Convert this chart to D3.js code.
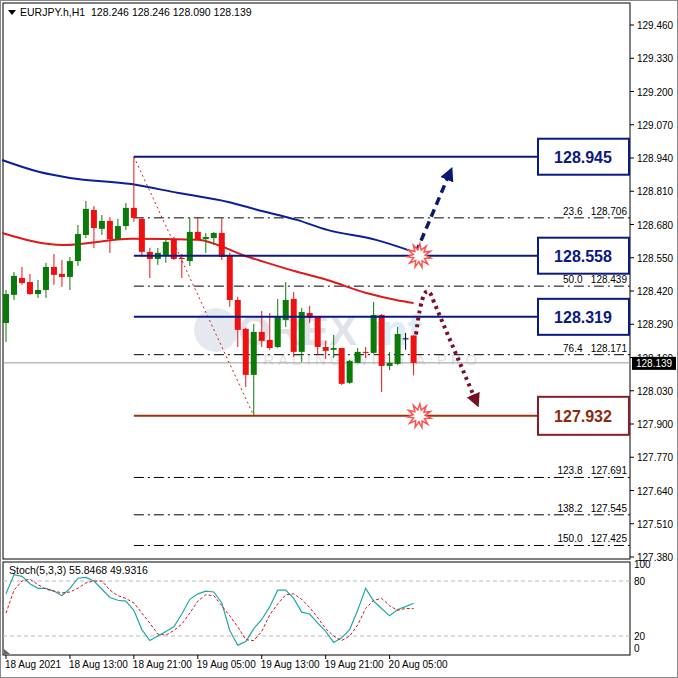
<!DOCTYPE html>
<html><head><meta charset="utf-8">
<script src="https://cdnjs.cloudflare.com/ajax/libs/d3/7.8.5/d3.min.js"></script>
<style>body{margin:0;background:#fff}svg{display:block;font-family:"Liberation Sans",Arial,sans-serif}</style>
</head><body><svg id="c" width="678" height="678"></svg>
<script>
// OHLC per hourly bar
const opens  = [128.295,128.405,128.471,128.455,128.408,128.424,128.514,128.487,128.475,128.537,128.639,128.737,128.663,128.694,128.623,128.674,128.745,128.702,128.573,128.545,128.561,128.620,128.549,128.537,128.651,128.623,128.627,128.647,128.557,128.385,128.272,128.092,128.260,128.229,128.201,128.307,128.389,128.182,128.334,128.319,128.201,128.190,128.197,128.061,128.139,128.182,128.178,128.326,128.127,128.135,128.233,128.246];
const highs  = [128.424,128.494,128.514,128.487,128.463,128.530,128.565,128.541,128.553,128.678,128.772,128.752,128.717,128.709,128.702,128.764,128.945,128.709,128.588,128.588,128.627,128.631,128.565,128.706,128.709,128.647,128.651,128.706,128.569,128.397,128.276,128.291,128.342,128.334,128.389,128.455,128.416,128.354,128.362,128.319,128.225,128.248,128.190,128.151,128.197,128.201,128.377,128.330,128.182,128.279,128.256,128.246];
const lows   = [128.221,128.385,128.444,128.405,128.393,128.393,128.444,128.436,128.424,128.518,128.627,128.588,128.639,128.569,128.623,128.659,128.690,128.553,128.471,128.522,128.530,128.541,128.471,128.518,128.620,128.569,128.600,128.541,128.358,128.201,128.045,127.932,128.201,128.190,128.197,128.279,128.162,128.143,128.295,128.170,128.154,128.158,128.053,128.057,128.139,128.158,128.174,128.025,128.111,128.131,128.190,128.090];
const closes = [128.408,128.479,128.451,128.408,128.424,128.514,128.483,128.475,128.537,128.643,128.741,128.666,128.694,128.623,128.674,128.745,128.706,128.573,128.545,128.569,128.612,128.545,128.547,128.651,128.620,128.631,128.647,128.553,128.385,128.268,128.092,128.260,128.225,128.197,128.319,128.385,128.182,128.338,128.315,128.201,128.186,128.197,128.057,128.147,128.182,128.178,128.326,128.127,128.139,128.252,128.233,128.139];
// moving averages (read at sample bars)
const blueMA = [[-0.5,128.932],[4.2,128.885],[8,128.862],[15.7,128.838],[21.6,128.803],[27.8,128.768],[31.5,128.737],[36.4,128.698],[40.2,128.659],[46.3,128.620],[51,128.573]];
const redMA  = [[-0.5,128.647],[7.2,128.600],[15.7,128.624],[24,128.620],[26.5,128.600],[29.6,128.561],[32.7,128.530],[36.4,128.495],[40.2,128.463],[45.1,128.412],[48.8,128.385],[51,128.373]];
// stochastic
const stochMain = [66,87,85,77,72,72,69,64,72,83,84,80,71,62,59,58,48,27,15,20,25,30,44,60,66,69,68,56,26,10,14,28,38,52,70,70,61,46,44,34,25,13,18,27,48,72,58,50,42,49,52,55.8];
const stochSig  = [45,70,80,82,76,71,69,67,68,72,78,80,80,70,64,61,56,45,34,22,21,26,33,45,58,65,64,53,42,30,16,15,25,43,55,65,66,60,51,40,28,20,15,20,32,50,59,61,53,48,50,49.9];
const priceTicks = [129.460,129.330,129.200,129.070,128.940,128.810,128.680,128.550,128.420,128.290,128.160,128.030,127.900,127.770,127.640,127.510,127.380];
const timeLabels = [[0,"18 Aug 2021"],[8,"18 Aug 13:00"],[16,"18 Aug 21:00"],[24,"19 Aug 05:00"],[32,"19 Aug 13:00"],[40,"19 Aug 21:00"],[48,"20 Aug 05:00"]];
const levels = [128.945,128.558,128.319];
const supportLevel = 127.932;
const fibLevels = [["23.6","128.706",128.706],["50.0","128.439",128.439],["76.4","128.171",128.171],["123.8","127.691",127.691],["138.2","127.545",127.545],["150.0","127.425",127.425]];
const lastPrice = 128.139;

const svg = d3.select("#c");
const L=3,R=630,T=3,B=559, ST=562, SB=655;
const x = d3.scaleLinear().domain([0,51]).range([6,413.6]);
const y = d3.scaleLinear().domain([127.38,129.46]).range([557,25]);
const ys = d3.scaleLinear().domain([20,80]).range([636,581]);

svg.append("rect").attr("x",0.5).attr("y",0.5).attr("width",677).attr("height",677).attr("fill","#fff").attr("stroke","#888");
svg.append("rect").attr("x",L).attr("y",T).attr("width",R-L).attr("height",B-T).attr("fill","none").attr("stroke","#000");
svg.append("rect").attr("x",L).attr("y",ST).attr("width",R-L).attr("height",SB-ST).attr("fill","none").attr("stroke","#000");

// watermark
const wm = svg.append("g").attr("opacity",0.18);
wm.append("circle").attr("cx",216).attr("cy",330).attr("r",22).attr("fill","#7a86a8");
wm.append("text").attr("x",238).attr("y",345).attr("font-size",42).attr("font-weight","bold").attr("fill","#5a6690").text("OREX");
wm.append("text").attr("x",370).attr("y",345).attr("font-size",42).attr("font-weight","bold").attr("fill","#4aa0d8").text("inf");
wm.append("text").attr("x",250).attr("y",365).attr("font-size",15).attr("letter-spacing",4).attr("fill","#667").text("TRADING WITH A PRO");

// axis ticks
const ax = svg.append("g");
priceTicks.forEach(p=>{
  ax.append("line").attr("x1",R).attr("x2",R+4).attr("y1",y(p)).attr("y2",y(p)).attr("stroke","#000");
  ax.append("text").attr("x",R+7).attr("y",y(p)+4).attr("font-size",10).attr("fill","#000").text(p.toFixed(3));
});

// fib lines
fibLevels.forEach(f=>{
  svg.append("line").attr("x1",x(16)).attr("x2",R).attr("y1",y(f[2])).attr("y2",y(f[2])).attr("stroke","#000").attr("stroke-dasharray","10,4,2,4");
  svg.append("text").attr("x",R-3).attr("y",y(f[2])-3).attr("text-anchor","end").attr("font-size",10).attr("fill","#000").text(f[0]+"   "+f[1]).style("white-space","pre");
});
// last price line
svg.append("line").attr("x1",L).attr("x2",R).attr("y1",y(lastPrice)).attr("y2",y(lastPrice)).attr("stroke","#999");
svg.append("rect").attr("x",R+2).attr("y",y(lastPrice)-6).attr("width",44).attr("height",13).attr("fill","#000");
svg.append("text").attr("x",R+6).attr("y",y(lastPrice)+4).attr("font-size",10).attr("fill","#fff").text(lastPrice.toFixed(3));

// diagonal fib line
svg.append("line").attr("x1",x(16)).attr("y1",y(128.945)).attr("x2",x(31)).attr("y2",y(127.932)).attr("stroke","#d02020").attr("stroke-dasharray","2,3");

// MAs
const ml = d3.line().x(d=>x(d[0])).y(d=>y(d[1])).curve(d3.curveMonotoneX);
svg.append("path").attr("d",ml(blueMA)).attr("fill","none").attr("stroke","#0a1ea0").attr("stroke-width",2);
svg.append("path").attr("d",ml(redMA)).attr("fill","none").attr("stroke","#e01818").attr("stroke-width",2);

// candles
const cg = svg.append("g");
opens.forEach((o,i)=>{
  const c=closes[i], up=c>=o, col = Math.abs(c-o)<0.002?"#000":(up?"#0a7a0a":"#ee1111");
  cg.append("line").attr("x1",x(i)).attr("x2",x(i)).attr("y1",y(highs[i])).attr("y2",y(lows[i])).attr("stroke",col);
  const t=y(Math.max(o,c)), h=Math.max(1,y(Math.min(o,c))-t);
  if(Math.abs(c-o)<0.002) cg.append("line").attr("x1",x(i)-3).attr("x2",x(i)+3).attr("y1",t).attr("y2",t).attr("stroke",col);
  else cg.append("rect").attr("x",x(i)-3).attr("y",t).attr("width",6).attr("height",h).attr("fill",col);
});

// levels + boxes
levels.forEach(p=>{
  svg.append("line").attr("x1",x(16)).attr("x2",R).attr("y1",y(p)).attr("y2",y(p)).attr("stroke","#0a1a80").attr("stroke-width",2);
  svg.append("rect").attr("x",538).attr("y",y(p)-18).attr("width",91).attr("height",36).attr("fill","#fff").attr("stroke","#0a1a80").attr("stroke-width",2);
  svg.append("text").attr("x",583).attr("y",y(p)+6).attr("text-anchor","middle").attr("font-size",16).attr("font-weight","bold").attr("fill","#0a1a80").text(p.toFixed(3));
});
svg.append("line").attr("x1",x(16)).attr("x2",R).attr("y1",y(supportLevel)).attr("y2",y(supportLevel)).attr("stroke","#a0300a").attr("stroke-width",2);
svg.append("rect").attr("x",538).attr("y",y(supportLevel)-19).attr("width",91).attr("height",38).attr("fill","#fff").attr("stroke","#8b1a2a").attr("stroke-width",2);
svg.append("text").attr("x",583).attr("y",y(supportLevel)+6).attr("text-anchor","middle").attr("font-size",16).attr("font-weight","bold").attr("fill","#8b2a10").text(supportLevel.toFixed(3));

// arrows
const defs = svg.append("defs");
defs.append("marker").attr("id","ab").attr("viewBox","0 0 10 10").attr("refX",5).attr("refY",5).attr("markerWidth",4).attr("markerHeight",4).attr("orient","auto")
  .append("path").attr("d","M0,0L10,5L0,10z").attr("fill","#0a1a70");
defs.append("marker").attr("id","ar").attr("viewBox","0 0 10 10").attr("refX",5).attr("refY",5).attr("markerWidth",3.5).attr("markerHeight",3.5).attr("orient","auto")
  .append("path").attr("d","M0,0L10,5L0,10z").attr("fill","#7a1028");
svg.append("line").attr("x1",x(51.3)).attr("y1",y(128.57)).attr("x2",x(55.5)).attr("y2",y(128.88)).attr("stroke","#0a1a70").attr("stroke-width",3.5).attr("stroke-dasharray","8,5").attr("marker-end","url(#ab)");
svg.append("path").attr("d",`M${x(51.3)},${y(128.25)} Q${x(52.3)},${y(128.50)} ${x(53.5)},${y(128.38)} L${x(58.8)},${y(127.99)}`).attr("fill","none").attr("stroke","#7a1028").attr("stroke-width",4).attr("stroke-dasharray","3,4").attr("marker-end","url(#ar)");

// starbursts
function burst(cx,cy){
  const pts=[];for(let k=0;k<22;k++){const r=k%2?6:12, a=k*Math.PI/11+0.2;pts.push([cx+r*Math.cos(a),cy+r*Math.sin(a)]);}
  svg.append("polygon").attr("points",pts.map(p=>p.join(",")).join(" ")).attr("fill","#fff").attr("stroke","#ff5050").attr("stroke-width",1.5);
}
burst(x(51.7),y(128.558));
burst(x(51.7),y(127.932));

// title
svg.append("path").attr("d","M8,10L16,10L12,15z").attr("fill","#000");
svg.append("text").attr("x",20).attr("y",16).attr("font-size",10.5).attr("fill","#000").text("EURJPY.h,H1  128.246 128.246 128.090 128.139").style("white-space","pre");

// stochastic
[80,20].forEach(v=>svg.append("line").attr("x1",L).attr("x2",R).attr("y1",ys(v)).attr("y2",ys(v)).attr("stroke","#bbb").attr("stroke-dasharray","4,3"));
[[100,ys(100)+5],[80,ys(80)+4],[20,ys(20)+4],[0,ys(0)-2]].forEach(d=>{
  svg.append("text").attr("x",R+4).attr("y",d[1]).attr("font-size",10).text(d[0]);
});
const sl = d3.line().x((d,i)=>x(i)).y(d=>ys(d));
svg.append("path").attr("d",sl(stochMain)).attr("fill","none").attr("stroke","#20a8a8").attr("stroke-width",1.2);
svg.append("path").attr("d",sl(stochSig)).attr("fill","none").attr("stroke","#d01818").attr("stroke-dasharray","3,2");
svg.append("text").attr("x",9).attr("y",574).attr("font-size",10.5).text("Stoch(5,3,3) 55.8468 49.9316");
svg.append("path").attr("d",`M${L+1},${SB-6}L${L+7},${SB-1}L${L+1},${SB-1}z`).attr("fill","#666");

// time axis
timeLabels.forEach(t=>{
  svg.append("line").attr("x1",x(t[0])).attr("x2",x(t[0])).attr("y1",SB).attr("y2",SB+4).attr("stroke","#000");
  svg.append("text").attr("x",x(t[0])-1).attr("y",668).attr("font-size",10).text(t[1]);
});
</script></body></html>
